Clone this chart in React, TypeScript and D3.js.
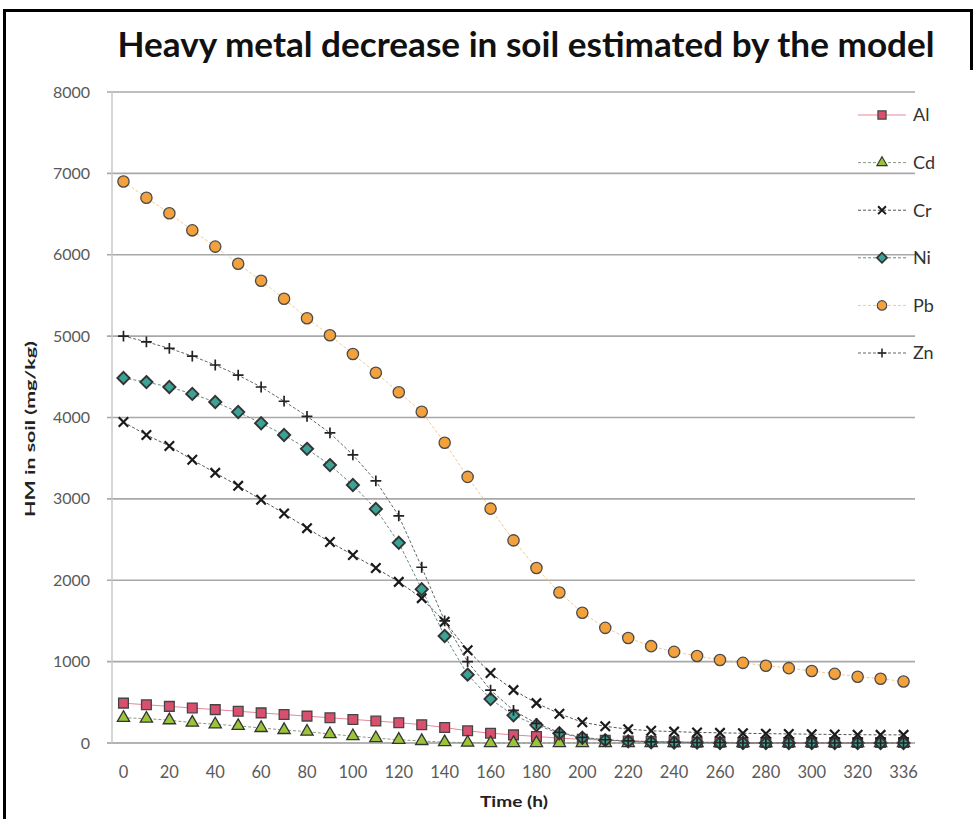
import React, { useEffect, useRef } from 'react';
import * as d3 from 'd3';

// time categories (h)
const times = [0, 10, 20, 30, 40, 50, 60, 70, 80, 90, 100, 110, 120, 130, 140, 150, 160, 170, 180, 190, 200, 210, 220, 230, 240, 250, 260, 270, 280, 290, 300, 310, 320, 330, 336];
const xTickLabels = [0, 20, 40, 60, 80, 100, 120, 140, 160, 180, 200, 220, 240, 260, 280, 300, 320, 336];
const yTicks = [0, 1000, 2000, 3000, 4000, 5000, 6000, 7000, 8000];

const al = [490, 470, 450, 430, 410, 390, 370, 350, 330, 310, 290, 270, 250, 225, 190, 150, 120, 100, 80, 60, 45, 35, 25, 20, 15, 10, 10, 5, 5, 5, 5, 5, 5, 5, 5];
const cd = [310, 300, 280, 250, 230, 210, 185, 160, 140, 110, 85, 60, 40, 25, 10, 5, 0, 0, 0, 0, 0, 0, 0, 0, 0, 0, 0, 0, 0, 0, 0, 0, 0, 0, 0];
const cr = [3945, 3785, 3650, 3480, 3320, 3160, 2990, 2820, 2640, 2470, 2310, 2150, 1980, 1780, 1490, 1140, 860, 650, 490, 360, 255, 205, 170, 150, 140, 130, 125, 120, 115, 112, 108, 105, 102, 100, 100];
const ni = [4485, 4435, 4375, 4290, 4190, 4067, 3930, 3785, 3615, 3415, 3170, 2875, 2460, 1890, 1315, 840, 540, 340, 220, 120, 65, 35, 20, 10, 5, 5, 0, 0, 0, 0, 0, 0, 0, 0, 0];
const pb = [6900, 6700, 6510, 6300, 6100, 5890, 5680, 5460, 5220, 5010, 4780, 4550, 4310, 4070, 3690, 3270, 2880, 2490, 2150, 1850, 1600, 1415, 1290, 1190, 1120, 1070, 1020, 985, 950, 920, 885, 850, 815, 790, 755];
const zn = [5000, 4930, 4850, 4755, 4645, 4520, 4375, 4200, 4015, 3810, 3540, 3220, 2790, 2160, 1500, 1000, 650, 400, 240, 130, 70, 40, 25, 15, 10, 5, 5, 0, 0, 0, 0, 0, 0, 0, 0];

const seriesNames = ['Al', 'Cd', 'Cr', 'Ni', 'Pb', 'Zn'];

type Style = {
    symbol: d3.SymbolType;
    size: number;
    fill: string;
    stroke: string;
    strokeWidth: number;
    line: string;
    dash: string;
};

const styles: Record<string, Style> = {
    Al: { symbol: d3.symbolSquare, size: 95, fill: '#d9506f', stroke: '#444', strokeWidth: 1.3, line: '#e8869c', dash: 'none' },
    Cd: { symbol: d3.symbolTriangle, size: 65, fill: '#9cc43a', stroke: '#333', strokeWidth: 1.3, line: '#8a9a80', dash: '3,2' },
    Cr: { symbol: d3.symbolTimes, size: 60, fill: 'none', stroke: '#1a1a1a', strokeWidth: 2.2, line: '#555', dash: '3,2' },
    Ni: { symbol: d3.symbolDiamond2, size: 95, fill: '#3aa395', stroke: '#333', strokeWidth: 1.9, line: '#6a8a88', dash: '3,2' },
    Pb: { symbol: d3.symbolCircle, size: 100, fill: '#f2a13c', stroke: '#4a4a4a', strokeWidth: 1.3, line: '#f5c890', dash: '3,2' },
    Zn: { symbol: d3.symbolPlus, size: 40, fill: 'none', stroke: '#222', strokeWidth: 1.7, line: '#666', dash: '3,2' },
};

const App: React.FC = () => {
    const svgRef = useRef<SVGSVGElement>(null);

    useEffect(() => {
        if (!svgRef.current) return;
        const width = 974;
        const height = 819;
        const svg = d3.select(svgRef.current)
            .attr('width', width)
            .attr('height', height);
        svg.selectAll('*').remove();

        const font = 'Lato, "Open Sans", sans-serif';
        const plot = { left: 112, right: 915, top: 92, bottom: 743 };

        svg.append('rect').attr('width', width).attr('height', height).attr('fill', '#fff');

        // frame
        svg.append('path')
            .attr('d', `M4.5,819 L4.5,10.5 L971.5,10.5 L971.5,70`)
            .attr('fill', 'none')
            .attr('stroke', '#000')
            .attr('stroke-width', 3);

        const x = d3.scaleBand<number>()
            .domain(times)
            .range([plot.left, plot.right]);
        const xc = (t: number) => x(t)! + x.bandwidth() / 2;

        const y = d3.scaleLinear()
            .domain([0, 8000])
            .range([plot.bottom, plot.top]);

        // gridlines
        svg.append('g')
            .selectAll('line')
            .data(yTicks)
            .enter().append('line')
            .attr('x1', plot.left - 5)
            .attr('x2', plot.right)
            .attr('y1', d => y(d))
            .attr('y2', d => y(d))
            .attr('stroke', d => d === 0 ? '#9a9a9a' : '#a8a8a8')
            .attr('stroke-width', 1.6);

        svg.append('line')
            .attr('x1', plot.left).attr('x2', plot.left)
            .attr('y1', plot.top).attr('y2', plot.bottom)
            .attr('stroke', '#c8c8c8')
            .attr('stroke-width', 1.5);

        // y tick labels
        svg.append('g')
            .selectAll('text')
            .data(yTicks)
            .enter().append('text')
            .attr('x', 90)
            .attr('y', d => y(d))
            .attr('dy', '0.35em')
            .attr('text-anchor', 'end')
            .attr('font-family', font)
            .attr('font-size', 16)
            .attr('fill', '#5a5a5a')
            .text(d => String(d));

        // x tick labels
        svg.append('g')
            .selectAll('text')
            .data(xTickLabels)
            .enter().append('text')
            .attr('x', d => xc(d))
            .attr('y', 772)
            .attr('dy', '0.35em')
            .attr('text-anchor', 'middle')
            .attr('font-family', font)
            .attr('font-size', 16.5)
            .attr('fill', '#5a5a5a')
            .text(d => String(d));

        // title
        svg.append('text')
            .attr('x', 526)
            .attr('y', 57)
            .attr('text-anchor', 'middle')
            .attr('font-family', font)
            .attr('font-weight', 'bold')
            .attr('font-size', 34)
            .attr('textLength', 817)
            .attr('lengthAdjust', 'spacingAndGlyphs')
            .attr('fill', '#111')
            .text('Heavy metal decrease in soil estimated by the model');

        // axis titles
        svg.append('text')
            .attr('transform', 'translate(35,429) rotate(-90)')
            .attr('text-anchor', 'middle')
            .attr('font-family', font)
            .attr('font-weight', 'bold')
            .attr('font-size', 14)
            .attr('textLength', 176)
            .attr('lengthAdjust', 'spacingAndGlyphs')
            .attr('fill', '#222')
            .text('HM in soil (mg/kg)');

        svg.append('text')
            .attr('x', 514)
            .attr('y', 807)
            .attr('text-anchor', 'middle')
            .attr('font-family', font)
            .attr('font-weight', 'bold')
            .attr('font-size', 16)
            .attr('textLength', 68)
            .attr('lengthAdjust', 'spacingAndGlyphs')
            .attr('fill', '#222')
            .text('Time (h)');

        const dataMap: Record<string, number[]> = { Al: al, Cd: cd, Cr: cr, Ni: ni, Pb: pb, Zn: zn };

        const line = d3.line<number>()
            .x((_, i) => xc(times[i]))
            .y(d => y(d));

        seriesNames.forEach(name => {
            const s = styles[name];
            const values = dataMap[name];
            const g = svg.append('g');
            g.append('path')
                .datum(values)
                .attr('d', line)
                .attr('fill', 'none')
                .attr('stroke', s.line)
                .attr('stroke-width', 1)
                .attr('stroke-dasharray', s.dash);
            g.selectAll('path.m')
                .data(values)
                .enter().append('path')
                .attr('class', 'm')
                .attr('transform', (d, i) => `translate(${xc(times[i])},${y(d)})`)
                .attr('d', d3.symbol(s.symbol, s.size)()!)
                .attr('fill', s.fill)
                .attr('stroke', s.stroke)
                .attr('stroke-width', s.strokeWidth);
        });

        // legend
        const legend = svg.append('g').attr('transform', 'translate(882,115)');
        seriesNames.forEach((name, i) => {
            const s = styles[name];
            const row = legend.append('g').attr('transform', `translate(0,${i * 47.6})`);
            row.append('line')
                .attr('x1', -24).attr('x2', 24)
                .attr('stroke', s.line)
                .attr('stroke-width', 1)
                .attr('stroke-dasharray', s.dash);
            row.append('path')
                .attr('d', d3.symbol(s.symbol, s.size * 0.7)()!)
                .attr('fill', s.fill)
                .attr('stroke', s.stroke)
                .attr('stroke-width', s.strokeWidth * 0.9);
            row.append('text')
                .attr('x', 31)
                .attr('dy', '0.35em')
                .attr('font-family', font)
                .attr('font-size', 18)
                .attr('fill', '#333')
                .text(name);
        });
    }, []);

    return (
        <div style={{ position: 'absolute', left: 0, top: 0 }}>
            <svg ref={svgRef}></svg>
        </div>
    );
};

export default App;
